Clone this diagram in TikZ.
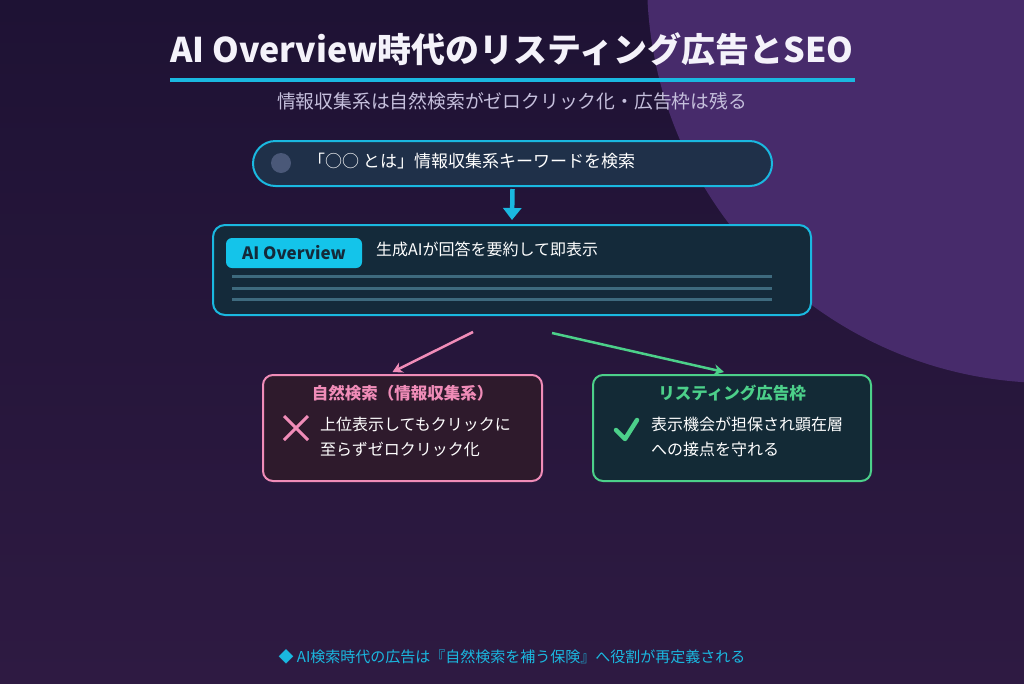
\documentclass[tikz,border=0pt]{standalone}
\usepackage{fontspec}
\setmainfont{Noto Sans CJK JP}
\usetikzlibrary{arrows.meta,positioning,calc}
\definecolor{bgtop}{HTML}{1E1234}
\definecolor{bgbot}{HTML}{2E1A42}
\definecolor{halo}{HTML}{472B6B}
\definecolor{cyanb}{HTML}{1AB8E0}
\definecolor{badgec}{HTML}{14C4EA}
\definecolor{pillf}{HTML}{1F3049}
\definecolor{dotc}{HTML}{4A5878}
\definecolor{aif}{HTML}{142A3A}
\definecolor{linec}{HTML}{3E6A7E}
\definecolor{pinkc}{HTML}{F08CB8}
\definecolor{pinkf}{HTML}{2E1A2C}
\definecolor{greenc}{HTML}{4CD08A}
\definecolor{greenf}{HTML}{132A36}
\definecolor{titc}{HTML}{F4F2FA}
\definecolor{subc}{HTML}{C5BFDC}
\tikzset{
  kart/.style={draw,line width=2pt,rounded corners=10pt,inner sep=0pt},
  szov/.style={anchor=west,inner sep=0pt,text=white,font=\fontsize{16}{25}\selectfont,align=left},
  fej/.style={inner sep=0pt,font=\bfseries\fontsize{16.5}{20}\selectfont},
  nyil/.style={line width=2.5pt,-{Stealth[length=10pt,width=11pt]}},
  sor/.style={linec,line width=3pt},
}

\begin{document}
\begin{tikzpicture}[x=1pt,y=-1pt]
  \useasboundingbox (0,0) rectangle (1024,683);
  \shade[top color=bgtop,bottom color=bgbot] (0,0) rectangle (1024,683);
  \begin{scope}
    \clip (0,0) rectangle (1024,683);
    \fill[halo] (1050,-20) circle (403pt);
  \end{scope}
  % title
  \node[text=titc,font=\bfseries\fontsize{34}{36}\selectfont,inner sep=0pt] (cim) at (512,49)
    {AI Overview時代のリスティング広告とSEO};
  \draw[cyanb,line width=3.5pt] (170,80) -- (855,80);
  \node[text=subc,font=\fontsize{18.8}{22}\selectfont,inner sep=0pt] (alcim) at (512,101)
    {情報収集系は自然検索がゼロクリック化・広告枠は残る};
  % search query
  \node[kart,cyanb,fill=pillf,rounded corners=22.5pt,minimum width=519pt,minimum height=45pt] (kereso) at (512.5,163.5) {};
  \fill[dotc] (281,163) circle (10pt);
  \node[szov,font=\fontsize{17}{20}\selectfont] (kerszov) at (308,161) {「○○ とは」情報収集系キーワードを検索};
  % AI overview box
  \node[kart,cyanb,fill=aif,rounded corners=12pt,minimum width=598pt,minimum height=90pt] (ai) at (512,270) {};
  \node[fill=badgec,rounded corners=6pt,minimum width=136pt,minimum height=30pt,inner sep=0pt,
    text=aif,font=\bfseries\fontsize{17}{20}\selectfont] (jel) at (294,253) {AI Overview};
  \node[szov] (aiszov) at (376,249) {生成AIが回答を要約して即表示};
  \foreach \y in {276,288,299} \draw[sor] (232,\y) -- (772,\y);
  \draw[cyanb,line width=4.5pt,-{Triangle[length=12pt,width=18pt]}] (kereso.south) ++(0,2) -- ($(ai.north)+(0,-4)$);
  % two outcomes
  \node[kart,pinkc,fill=pinkf,minimum width=279pt,minimum height=106pt] (seo) at (402.5,428) {};
  \node[kart,greenc,fill=greenf,minimum width=278pt,minimum height=106pt] (ads) at (732,428) {};
  \coordinate (p1) at (473,332); \coordinate (g1) at (552,333);
  \draw[nyil,pinkc] (p1) -- ($(seo.north)+(-10,-2)$);
  \draw[nyil,greenc] (g1) -- ($(ads.north)+(-8,-2)$);
  \node[fej,text=pinkc] (seofej) at (402.5,393) {自然検索（情報収集系）};
  \node[fej,text=greenc] (adsfej) at (732,393) {リスティング広告枠};
  \draw[pinkc,line width=3pt] (284,416) -- (308,440) (308,416) -- (284,440);
  \draw[greenc,line width=4.5pt,line cap=round,line join=round] (616,430) -- (625,439) -- (637,420);
  \node[szov,anchor=north west] (seoszov) at (320,417) {上位表示してもクリックに\\至らずゼロクリック化};
  \node[szov,anchor=north west] (adsszov) at (651,417) {表示機会が担保され顕在層\\への接点を守れる};
  % footer
  \node[text=cyanb,font=\fontsize{15}{18}\selectfont,inner sep=0pt] (lab) at (512,657)
    {◆ AI検索時代の広告は『自然検索を補う保険』へ役割が再定義される};
\end{tikzpicture}
\end{document}
